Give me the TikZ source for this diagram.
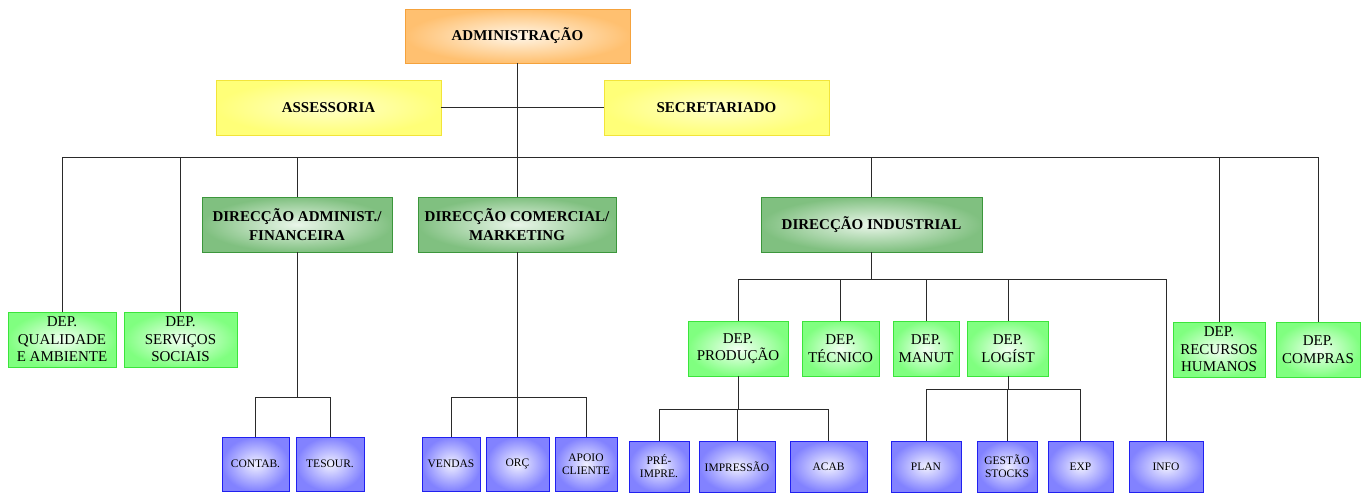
\documentclass[tikz,border=0pt]{standalone}
\usepackage{fontspec}
\setmainfont{Liberation Serif}
\usepackage{tikz}

\definecolor{linegray}{HTML}{2A2A2A}
\definecolor{orangeline}{HTML}{F5A23C}
\definecolor{orangefill}{HTML}{FFC070}
\definecolor{orangelight}{HTML}{FFF6E8}
\definecolor{yellowline}{HTML}{F2E43A}
\definecolor{yellowfill}{HTML}{FFFF78}
\definecolor{yellowlight}{HTML}{FFFFC8}
\definecolor{dirline}{HTML}{3C963C}
\definecolor{dirfill}{HTML}{80C080}
\definecolor{dirlight}{HTML}{EAF6EA}
\definecolor{depline}{HTML}{3CE43C}
\definecolor{depfill}{HTML}{80FF80}
\definecolor{deplight}{HTML}{F2FFF2}
\definecolor{unitline}{HTML}{2020F0}
\definecolor{unitfill}{HTML}{8282FF}
\definecolor{unitlight}{HTML}{F0F0FF}

\begin{document}
\begin{tikzpicture}[x=1pt, y=-1pt,
    link/.style={draw=linegray, line width=0.8pt},
    box/.style={draw, line width=0.9pt, inner sep=1pt, align=center},
    boxsize/.style 2 args={minimum width=#1pt, minimum height=#2pt},
    topbox/.style={box, draw=orangeline, inner color=orangelight, outer color=orangefill, font=\bfseries\fontsize{15}{17}\selectfont},
    helpbox/.style={box, draw=yellowline, inner color=yellowlight, outer color=yellowfill, font=\bfseries\fontsize{15}{17}\selectfont},
    dirbox/.style={box, draw=dirline, inner color=dirlight, outer color=dirfill, font=\bfseries\fontsize{15}{19}\selectfont},
    depbox/.style={box, draw=depline, inner color=deplight, outer color=depfill, font=\fontsize{15}{17.5}\selectfont},
    unitbox/.style={box, draw=unitline, inner color=unitlight, outer color=unitfill, font=\fontsize{11.5}{13}\selectfont}]
    \useasboundingbox (0,0) rectangle (1365,493);

    % Top of the chart
    \node[topbox, boxsize={225}{54}] (admin) at (517.5,36) {ADMINISTRAÇÃO};
    \node[helpbox, boxsize={225}{55}] (assess) at (328.5,107.5) {ASSESSORIA};
    \node[helpbox, boxsize={225}{55}] (secret) at (716.5,107.5) {SECRETARIADO};

    % Directions
    \node[dirbox, boxsize={190}{55}] (diradm) at (297,224.5) {DIRECÇÃO ADMINIST./\\FINANCEIRA};
    \node[dirbox, boxsize={198}{55}] (dircom) at (517,224.5) {DIRECÇÃO COMERCIAL/\\MARKETING};
    \node[dirbox, boxsize={221}{55}] (dirind) at (871.5,224.5) {DIRECÇÃO INDUSTRIAL};

    % Departments
    \node[depbox, boxsize={108}{55}] (qual) at (62,339.5) {DEP.\\QUALIDADE\\E AMBIENTE};
    \node[depbox, boxsize={113}{55}] (social) at (180.5,339.5) {DEP.\\SERVIÇOS\\SOCIAIS};
    \node[depbox, boxsize={100}{55}] (prod) at (738,348.5) {DEP.\\PRODUÇÃO};
    \node[depbox, boxsize={77}{55}] (tecn) at (840.5,348.5) {DEP.\\TÉCNICO};
    \node[depbox, boxsize={66}{55}] (manut) at (926,348.5) {DEP.\\MANUT};
    \node[depbox, boxsize={81}{55}] (logist) at (1008,348.5) {DEP.\\LOGÍST};
    \node[depbox, boxsize={92}{55}] (rhum) at (1219,349.5) {DEP.\\RECURSOS\\HUMANOS};
    \node[depbox, boxsize={84}{55}] (compras) at (1318,349.5) {DEP.\\COMPRAS};

    % Units
    \node[unitbox, boxsize={67}{54}] (contab) at (255.5,464) {CONTAB.};
    \node[unitbox, boxsize={68}{54}] (tesour) at (330,464) {TESOUR.};
    \node[unitbox, boxsize={58}{54}] (vendas) at (451,464) {VENDAS};
    \node[unitbox, boxsize={63}{54}] (orc) at (517.5,464) {ORÇ};
    \node[unitbox, boxsize={62}{54}] (apoio) at (586,464) {APOIO\\CLIENTE};
    \node[unitbox, boxsize={60}{51}] (preimp) at (659,466.5) {PRÉ-\\IMPRE.};
    \node[unitbox, boxsize={76}{51}] (impres) at (737,466.5) {IMPRESSÃO};
    \node[unitbox, boxsize={77}{51}] (acab) at (828.5,466.5) {ACAB};
    \node[unitbox, boxsize={70}{51}] (plan) at (926,466.5) {PLAN};
    \node[unitbox, boxsize={60}{51}] (gestao) at (1007,466.5) {GESTÃO\\STOCKS};
    \node[unitbox, boxsize={65}{51}] (expd) at (1080.5,466.5) {EXP};
    \node[unitbox, boxsize={74}{51}] (info) at (1166,466.5) {INFO};

    % Bus points
    \coordinate (mainbus) at (517.5,157);
    \coordinate (indbus) at (871.5,279);
    \coordinate (admbus) at (297,397);
    \coordinate (combus) at (517,397);
    \coordinate (prodbus) at (738,409);
    \coordinate (logbus) at (1008,389);

    % Connectors
    \draw[link] (assess.east) -- (secret.west);
    \draw[link] (admin.south) -- (mainbus);
    \foreach \c in {qual,social,diradm,dircom,dirind,rhum,compras}
        \draw[link] (mainbus) -| (\c.north);
    \draw[link] (dirind.south) -- (indbus);
    \foreach \c in {prod,tecn,manut,logist,info}
        \draw[link] (indbus) -| (\c.north);
    \draw[link] (diradm.south) -- (admbus);
    \foreach \c in {contab,tesour}
        \draw[link] (admbus) -| (\c.north);
    \draw[link] (dircom.south) -- (combus);
    \foreach \c in {vendas,orc,apoio}
        \draw[link] (combus) -| (\c.north);
    \draw[link] (prod.south) -- (prodbus);
    \foreach \c in {preimp,impres,acab}
        \draw[link] (prodbus) -| (\c.north);
    \draw[link] (logist.south) -- (logbus);
    \foreach \c in {plan,gestao,expd}
        \draw[link] (logbus) -| (\c.north);
\end{tikzpicture}
\end{document}
